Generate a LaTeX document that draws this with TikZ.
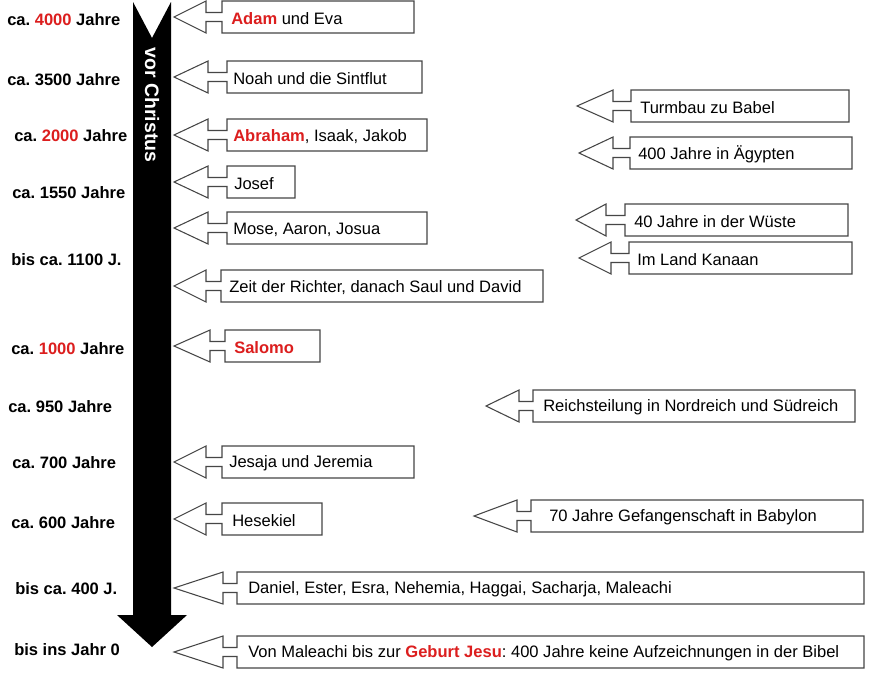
\documentclass[tikz,border=0pt]{standalone}
\usepackage{fontspec}
\setmainfont{Liberation Sans}
\frenchspacing
\definecolor{myred}{RGB}{220,30,30}
\definecolor{lineg}{RGB}{70,70,70}
\tikzset{
  callbox/.style={draw=lineg, line width=0.8pt, fill=white},
  calltext/.style={anchor=west, inner sep=0pt, yshift=-1.2pt, font=\fontsize{12.4}{14}\selectfont},
  datelabel/.style={anchor=west, inner sep=0pt, yshift=-1.2pt, font=\fontsize{12.4}{14}\selectfont\bfseries},
}
% #1 name, #2 tip x, #3 head back x, #4 box left, #5 box right, #6 y center, #7 text x, #8 text
\newcommand\mycallout[8]{%
  \draw[callbox] (#2,#6) -- (#3,#6-16) -- (#3,#6-4.5) -- (#4,#6-4.5) -- (#4,#6-16)
    -- (#5,#6-16) -- (#5,#6+16) -- (#4,#6+16) -- (#4,#6+4.5) -- (#3,#6+4.5)
    -- (#3,#6+16) -- cycle;
  \node[calltext] (#1) at (#7,#6) {#8};
}
\newcommand\rb[1]{\textcolor{myred}{\textbf{#1}}}
\begin{document}
\begin{tikzpicture}[x=0.75pt,y=-0.75pt]
\useasboundingbox (0,0) rectangle (887,693);
\fill[white] (0,0) rectangle (887,693);

% black time arrow
\fill[black] (133,2) -- (152,38) -- (171,2) -- (171,615) -- (187,615)
  -- (152,647) -- (117,615) -- (133,615) -- cycle;
\node[rotate=-90, text=white, font=\fontsize{14.6}{16}\selectfont\bfseries] (vc) at (152,105) {vor Christus};

% date labels
\node[datelabel] (d1) at (7,18) {ca. \textcolor{myred}{4000} Jahre};
\node[datelabel] (d2) at (7,78) {ca. 3500 Jahre};
\node[datelabel] (d3) at (14,134) {ca. \textcolor{myred}{2000} Jahre};
\node[datelabel] (d4) at (12,191) {ca. 1550 Jahre};
\node[datelabel] (d5) at (11,258) {bis ca. 1100 J.};
\node[datelabel] (d6) at (11,347) {ca. \textcolor{myred}{1000} Jahre};
\node[datelabel] (d7) at (8,405) {ca. 950 Jahre};
\node[datelabel] (d8) at (12,461) {ca. 700 Jahre};
\node[datelabel] (d9) at (11,521) {ca. 600 Jahre};
\node[datelabel] (d10) at (15,587) {bis ca. 400 J.};
\node[datelabel] (d11) at (14,648) {bis ins Jahr 0};

% left column callouts
\mycallout{c1}{174}{206}{222}{414}{17}{231}{\rb{Adam} und Eva}
\mycallout{c2}{174}{208}{227}{422}{77}{233}{Noah und die Sintflut}
\mycallout{c3}{174}{208}{227}{427}{135}{233}{\rb{Abraham}, Isaak, Jakob}
\mycallout{c4}{174}{208}{227}{295}{182}{234}{Josef}
\mycallout{c5}{174}{208}{227}{427}{228}{233}{Mose, Aaron, Josua}
\mycallout{c6}{174}{206}{221}{543}{286}{229}{Zeit der Richter, danach Saul und David}
\mycallout{c7}{174}{210}{225}{320}{346}{234}{\rb{Salomo}}
\mycallout{c8}{174}{206}{222}{414}{462}{229}{Jesaja und Jeremia}
\mycallout{c9}{174}{206}{222}{322}{519}{232}{Hesekiel}
\mycallout{c10}{174}{223}{237}{864}{588}{248}{Daniel, Ester, Esra, Nehemia, Haggai, Sacharja, Maleachi}
\mycallout{c11}{174}{223}{237}{864}{652}{248}{Von Maleachi bis zur \rb{Geburt Jesu}: 400 Jahre keine Aufzeichnungen in der Bibel}

% right column callouts
\mycallout{r1}{577}{613}{631}{849}{106}{640}{Turmbau zu Babel}
\mycallout{r2}{579}{613}{630}{852}{153}{638}{400 Jahre in Ägypten}
\mycallout{r3}{576}{606}{625}{848}{220}{634}{40 Jahre in der Wüste}
\mycallout{r4}{579}{611}{629}{852}{258}{637}{Im Land Kanaan}
\mycallout{r5}{486}{519}{533}{855}{406}{543}{Reichsteilung in Nordreich und Südreich}
\mycallout{r6}{474}{517}{531}{863}{516}{549}{70 Jahre Gefangenschaft in Babylon}
\end{tikzpicture}
\end{document}
